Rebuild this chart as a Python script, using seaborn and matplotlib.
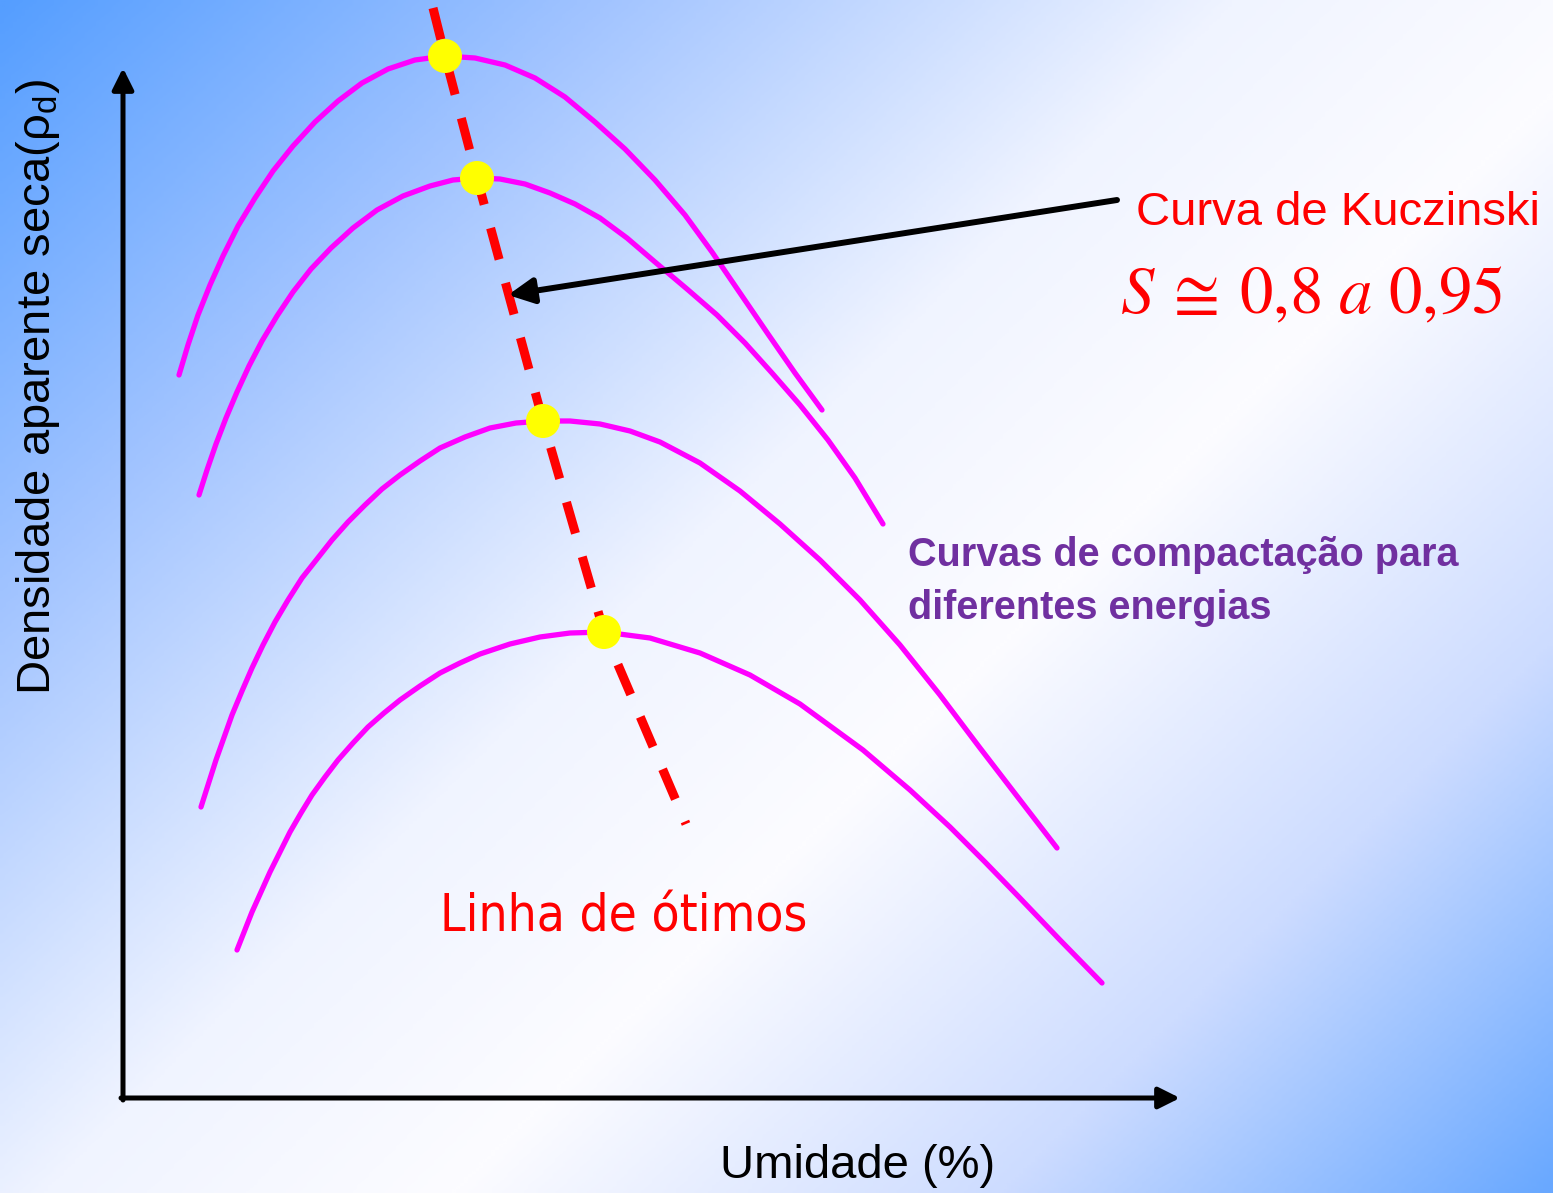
import os
import numpy as np
import pandas as pd
import matplotlib
matplotlib.use("Agg")
import matplotlib.pyplot as plt
import matplotlib.font_manager as fm
from matplotlib.colors import LinearSegmentedColormap
import seaborn as sns

sns.set_style("white")
plt.rcParams['font.family'] = ['Liberation Sans', 'DejaVu Sans']

W, H = 1553, 1193

# compaction curves (x: moisture, y: density, screen units)
curve1_x = [179, 188, 198, 210, 223, 238, 255, 273, 293, 315, 338, 362, 388, 415, 445,
            475, 505, 535, 565, 595, 625, 655, 685, 712, 740, 768, 795, 822]
curve1_y = [375, 345, 315, 285, 256, 226, 198, 171, 146, 122, 101, 83, 69, 60, 56,
            58, 65, 78, 97, 122, 149, 180, 215, 252, 293, 334, 373, 410]
curve2_x = [199, 207, 216, 226, 237, 249, 262, 277, 293, 311, 331, 353, 377, 403, 430, 453, 477,
            500, 525, 550, 575, 600, 627, 655, 687, 717, 745, 772, 800, 828, 855, 883]
curve2_y = [495, 470, 444, 418, 392, 366, 341, 316, 292, 269, 248, 228, 210, 196, 186, 180, 178,
            179, 184, 193, 204, 218, 238, 262, 289, 315, 343, 373, 405, 440, 478, 524]
curve3_x = [201, 216, 232, 242, 252, 263, 275, 288, 302, 317, 332, 348, 365, 382, 400, 420, 440,
            465, 490, 516, 543, 570, 600, 630, 660, 700, 740, 780, 820, 860, 900, 940, 980, 1020, 1057]
curve3_y = [807, 760, 715, 691, 668, 645, 622, 600, 578, 559, 540, 522, 505, 489, 475, 461, 448,
            437, 428, 423, 421, 421, 424, 431, 442, 463, 491, 524, 560, 600, 645, 695, 748, 800, 848]
curve4_x = [237, 252, 261, 270, 280, 290, 301, 312, 325, 338, 353, 368, 384, 400, 420, 440, 460,
            480, 510, 540, 570, 604, 650, 700, 750, 800, 863, 910, 950, 985, 1017, 1060, 1102]
curve4_y = [950, 912, 892, 872, 852, 832, 813, 795, 777, 760, 743, 727, 713, 700, 686, 673, 663,
            654, 644, 637, 633, 632, 638, 653, 675, 704, 750, 790, 827, 862, 895, 940, 983]

# optimum points and line of optima
optimum_x = [445, 477, 543, 604]
optimum_y = [56, 178, 421, 632]
optline_x = [433, 445, 477, 543, 604, 686]
optline_y = [8, 56, 178, 421, 632, 824]

curves = pd.concat([
    pd.DataFrame({'x': cx, 'y': cy, 'curva': i})
    for i, (cx, cy) in enumerate([(curve1_x, curve1_y), (curve2_x, curve2_y),
                                  (curve3_x, curve3_y), (curve4_x, curve4_y)])
])
optima = pd.DataFrame({'x': optimum_x, 'y': optimum_y})
optline = pd.DataFrame({'x': optline_x, 'y': optline_y})


def find_narrow():
    # an Arial-Narrow-like face, if one is installed
    found = []
    for f in fm.fontManager.ttflist:
        fn = os.path.basename(f.fname).lower()
        nm = f.name.lower()
        tag = nm + ' ' + fn
        if not ('narrow' in tag or 'condensed' in tag):
            continue
        if any(k in tag for k in ('semi', 'extra', 'ultra', 'bold', 'italic', 'oblique',
                                  'light', 'thin', 'medium', 'black', 'mono', 'serif')):
            continue
        found.append(f)
    found.sort(key=lambda f: (0 if 'liberation' in f.name.lower() else 1, f.fname))
    return fm.FontProperties(fname=found[0].fname) if found else None


fig = plt.figure(figsize=(W / 100, H / 100), dpi=100)
ax = fig.add_axes([0, 0, 1, 1])

# diagonal background gradient
gx, gy = np.meshgrid(np.linspace(0, W, 400), np.linspace(0, H, 400))
t = (gx + gy) / (W + H)
bg = LinearSegmentedColormap.from_list('bg', [
    (0.0, (85 / 255, 158 / 255, 1.0)),
    (0.22, (162 / 255, 196 / 255, 1.0)),
    (0.45, (240 / 255, 244 / 255, 1.0)),
    (0.6, (252 / 255, 252 / 255, 1.0)),
    (0.8, (205 / 255, 220 / 255, 1.0)),
    (1.0, (105 / 255, 168 / 255, 1.0)),
])
ax.imshow(t, cmap=bg, extent=(0, W, H, 0), aspect='auto', interpolation='bilinear', zorder=0)

sns.lineplot(data=curves, x='x', y='y', units='curva', estimator=None, sort=False,
             color='#FF00FF', lw=3.8, ax=ax, zorder=2, legend=False)
sns.lineplot(data=optline, x='x', y='y', sort=False, estimator=None, color='#FF0000',
             lw=6.5, linestyle=(0, (3.6, 2.7)), dash_capstyle='butt', ax=ax, zorder=3)
sns.scatterplot(data=optima, x='x', y='y', s=600, color='#FFFF00', edgecolor='none',
                ax=ax, zorder=4, legend=False)

# axes drawn as arrows
ax.annotate('', xy=(123, 68), xytext=(123, 1100),
            arrowprops=dict(arrowstyle='-|>', lw=3.6, color='black', mutation_scale=32,
                            shrinkA=0, shrinkB=0), zorder=5)
ax.annotate('', xy=(1180, 1098), xytext=(121, 1098),
            arrowprops=dict(arrowstyle='-|>', lw=3.6, color='black', mutation_scale=32,
                            shrinkA=0, shrinkB=0), zorder=5)
# pointer to the Kuczinski curve
ax.annotate('', xy=(508, 295), xytext=(1117, 200),
            arrowprops=dict(arrowstyle='-|>', lw=4.3, color='black', mutation_scale=38,
                            shrinkA=0, shrinkB=0), zorder=5)

ax.text(1136, 225, 'Curva de Kuczinski', color='#FF0000', fontsize=34, va='baseline', ha='left')
ax.text(1120, 313, r'$S\:\cong\:0{,}8\ a\ 0{,}95$', color='#FF0000', fontsize=48,
        va='baseline', ha='left', math_fontfamily='stix')
ax.text(908, 566, 'Curvas de compactação para', color='#7030A0', fontsize=28.5,
        fontweight='bold', va='baseline', ha='left')
ax.text(908, 619, 'diferentes energias', color='#7030A0', fontsize=28.5,
        fontweight='bold', va='baseline', ha='left')

narrow = find_narrow()
linha = ax.text(440, 931, 'Linha de ótimos', color='#FF0000', fontsize=40,
                va='baseline', ha='left')
if narrow is not None:
    linha.set_fontproperties(narrow)
    linha.set_fontsize(45)
fig.canvas.draw()
linha.set_fontsize(linha.get_fontsize() * 368 / linha.get_window_extent().width)

ax.text(720, 1178, 'Umidade (%)', color='black', fontsize=34, va='baseline', ha='left')
ax.text(38, 387, r'Densidade aparente seca(ρ$_\mathregular{d}$)', color='black',
        fontsize=34, rotation=90, ha='center', va='center')

ax.set_xlim(0, W)
ax.set_ylim(H, 0)
ax.axis('off')

plt.savefig('out.png', dpi=100)
